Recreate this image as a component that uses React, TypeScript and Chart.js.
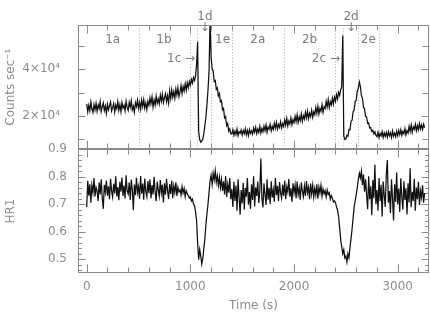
import React, { useEffect, useRef } from 'react';
import { Chart, registerables } from 'chart.js';

Chart.register(...registerables);

// time bins (s)
const T_START = 0;
const T_STEP = 10;

// Counts sec^-1, one value per 10 s bin
const COUNTS = [
  25200, 21800, 24600, 22300, 26100, 23000, 21500, 24900, 22600, 25400,
  22100, 24800, 23200, 26300, 21900, 23900, 25600, 22400, 24300, 21200,
  25100, 22700, 24400, 26000, 22200, 23600, 25300, 21700, 24700, 23100,
  26200, 22500, 24900, 21900, 25800, 23400, 24600, 22300, 26400, 23700,
  22400, 25900, 23800, 26500, 22600, 24200, 21600, 25700, 24100, 26800,
  23300, 25800, 22900, 26900, 24100, 27000, 23400, 25600, 22800, 26300,
  24600, 27700, 25200, 28200, 23800, 26900, 24700, 28500, 25400, 27300,
  25200, 28900, 26300, 29400, 25800, 27800, 29600, 26100, 28700, 25500,
  30800, 27400, 31200, 28100, 30400, 27600, 31600, 29000, 32100, 28300,
  30200, 33000, 29600, 32600, 30700, 33800, 31000, 34200, 32100, 34800,
  33200, 35600, 34100, 36500, 35200, 37200, 42000, 51700, 13500, 10000,
  8900, 9300, 10200, 12500, 16000, 19500, 25000, 31000, 39000, 61000,
  45000, 40200, 39300, 34800, 35200, 31400, 32100, 28600, 29600, 26100,
  26600, 22700, 23300, 19200, 19800, 15900, 16800, 13600, 14500, 12400,
  12400, 14200, 11800, 13600, 12100, 14500, 11600, 13300, 12700, 14100,
  11900, 13800, 12500, 14600, 12000, 13900, 11700, 14300, 12600, 13700,
  12300, 14900, 13100, 15200, 12500, 14400, 13000, 15600, 12800, 14700,
  13300, 15700, 13800, 16200, 13100, 15300, 14400, 16500, 13700, 15600,
  14200, 16900, 14800, 17300, 14500, 16400, 15200, 17600, 14900, 16800,
  15600, 18400, 16100, 19000, 15800, 17900, 16600, 19200, 16300, 18500,
  17200, 19900, 17600, 20500, 17300, 19600, 18100, 21000, 17800, 20200,
  18700, 21600, 19200, 22100, 18900, 21200, 19800, 22500, 19500, 21800,
  20600, 23700, 21200, 24200, 20900, 23300, 22000, 24800, 21600, 24000,
  23200, 26300, 23900, 27000, 23600, 26100, 24800, 27600, 25200, 28100,
  26400, 29200, 27300, 30100, 28800, 31200, 32500, 54400, 11500, 10000,
  10300, 11800, 11400, 14300, 14200, 17800, 18200, 21900, 22600, 26300,
  26800, 30700, 31900, 34600, 32700, 28800, 27600, 23800, 23100, 19900,
  19600, 16900, 17100, 14900, 15100, 13400, 13900, 12400, 13300, 11700,
  11200, 13100, 10800, 12600, 11500, 13400, 10900, 12800, 11300, 13000,
  11000, 13300, 11600, 12900, 10900, 13600, 11400, 12700, 11200, 13500,
  11600, 13900, 12100, 14200, 11800, 13500, 12400, 14600, 12000, 13800,
  12800, 15600, 13400, 16200, 13100, 15400, 14300, 16500, 13700, 15900,
  14100, 16800, 14600, 16200, 14300, 16500, 15000,
];

// Hardness ratio HR1, one value per 10 s bin
const HR1 = [
  0.690, 0.785, 0.731, 0.772, 0.705, 0.768, 0.742, 0.795, 0.728, 0.761,
  0.748, 0.712, 0.779, 0.735, 0.790, 0.722, 0.683, 0.770, 0.744, 0.786,
  0.731, 0.765, 0.718, 0.792, 0.747, 0.726, 0.774, 0.739, 0.801, 0.728,
  0.762, 0.714, 0.781, 0.745, 0.797, 0.730, 0.768, 0.721, 0.805, 0.748,
  0.737, 0.779, 0.715, 0.789, 0.752, 0.678, 0.771, 0.733, 0.796, 0.742,
  0.764, 0.720, 0.802, 0.738, 0.775, 0.716, 0.793, 0.746, 0.727, 0.784,
  0.740, 0.790, 0.722, 0.769, 0.735, 0.799, 0.744, 0.711, 0.782, 0.752,
  0.729, 0.788, 0.741, 0.770, 0.706, 0.776, 0.734, 0.792, 0.748, 0.719,
  0.773, 0.737, 0.785, 0.722, 0.766, 0.742, 0.779, 0.730, 0.761, 0.745,
  0.752, 0.733, 0.764, 0.741, 0.757, 0.727, 0.749, 0.738, 0.731, 0.722,
  0.726, 0.712, 0.718, 0.701, 0.695, 0.672, 0.640, 0.560, 0.498, 0.535,
  0.512, 0.482, 0.503, 0.540, 0.575, 0.625, 0.665, 0.700, 0.742, 0.785,
  0.805, 0.772, 0.812, 0.788, 0.821, 0.779, 0.803, 0.768, 0.798, 0.760,
  0.790, 0.748, 0.783, 0.735, 0.802, 0.726, 0.771, 0.742, 0.795, 0.718,
  0.755, 0.690, 0.781, 0.712, 0.768, 0.676, 0.790, 0.724, 0.662, 0.751,
  0.703, 0.778, 0.681, 0.759, 0.727, 0.795, 0.698, 0.744, 0.683, 0.772,
  0.715, 0.801, 0.692, 0.761, 0.730, 0.782, 0.704, 0.748, 0.866, 0.720,
  0.688, 0.776, 0.735, 0.697, 0.790, 0.716, 0.759, 0.701, 0.783, 0.724,
  0.752, 0.709, 0.795, 0.733, 0.767, 0.712, 0.780, 0.741, 0.722, 0.770,
  0.730, 0.785, 0.718, 0.763, 0.744, 0.791, 0.727, 0.758, 0.709, 0.776,
  0.741, 0.770, 0.722, 0.782, 0.735, 0.758, 0.716, 0.779, 0.748, 0.727,
  0.766, 0.730, 0.784, 0.742, 0.761, 0.718, 0.775, 0.737, 0.769, 0.726,
  0.757, 0.733, 0.772, 0.720, 0.763, 0.741, 0.768, 0.729, 0.755, 0.738,
  0.749, 0.726, 0.752, 0.735, 0.742, 0.718, 0.731, 0.722, 0.708, 0.712,
  0.705, 0.690, 0.678, 0.655, 0.615, 0.570, 0.545, 0.520, 0.535, 0.505,
  0.512, 0.490, 0.520, 0.505, 0.545, 0.575, 0.610, 0.650, 0.690, 0.712,
  0.735, 0.760, 0.790, 0.812, 0.795, 0.820, 0.770, 0.808, 0.745, 0.790,
  0.735, 0.682, 0.801, 0.718, 0.765, 0.660, 0.788, 0.722, 0.843, 0.700,
  0.751, 0.676, 0.795, 0.712, 0.770, 0.655, 0.782, 0.733, 0.690, 0.808,
  0.860, 0.705, 0.748, 0.668, 0.790, 0.721, 0.641, 0.772, 0.708, 0.815,
  0.699, 0.757, 0.672, 0.794, 0.726, 0.680, 0.783, 0.715, 0.758, 0.663,
  0.776, 0.706, 0.830, 0.689, 0.745, 0.712, 0.792, 0.676, 0.760, 0.718,
  0.781, 0.697, 0.748, 0.724, 0.769, 0.705, 0.740,
];

// axes
const X_MIN = -84;
const X_MAX = 3302;
const X_TICKS = [0, 1000, 2000, 3000];
const X_MINOR_STEP = 200;
const X_MAJOR_STEP = 1000;
const COUNT_MIN = 5900;
const COUNT_MAX = 58800;
const COUNT_TICKS = [20000, 40000];
const COUNT_TICK_LABELS = ['2×10⁴', '4×10⁴'];
const COUNT_MINOR_TICKS = [10000, 20000, 30000, 40000, 50000];
const HR_MIN = 0.45;
const HR_MAX = 0.9;
const HR_TICKS = [0.5, 0.6, 0.7, 0.8, 0.9];
const HR_TICK_LABELS = ['0.5', '0.6', '0.7', '0.8', '0.9'];
const HR_MINOR_TICKS = [
  0.46, 0.48, 0.5, 0.52, 0.54, 0.56, 0.58, 0.6, 0.62, 0.64, 0.66, 0.68,
  0.7, 0.72, 0.74, 0.76, 0.78, 0.8, 0.82, 0.84, 0.86, 0.88, 0.9,
];

// phase annotations (time in s)
const BOUNDARIES = [500, 1000, 1065, 1200, 1400, 1900, 2400, 2475, 2620, 2815];
const PHASE_NAMES = ['1a', '1b', '1e', '2a', '2b', '2e'];
const PHASE_TIMES = [250, 745, 1310, 1650, 2150, 2717];
const SIDE_NAMES = ['1c →', '2c →'];
const SIDE_TIMES = [1046, 2443];
const DOWN_NAMES = ['1d', '2d'];
const DOWN_TIMES = [1140, 2550];

const FONT = '"DejaVu Sans", sans-serif';
const TEXT_COLOR = '#8c8c8c';
const FRAME_COLOR = '#8a8a8a';

const framePlugin = {
  id: 'frameTicks',
  beforeDatasetsDraw(chart: any) {
    const { ctx } = chart;
    const xs = chart.scales.x;
    const ys = chart.scales.y;
    ctx.save();
    ctx.strokeStyle = '#b0b0b0';
    ctx.lineWidth = 1;
    ctx.setLineDash([1, 2]);
    for (const t of BOUNDARIES) {
      const px = Math.round(xs.getPixelForValue(t)) + 0.5;
      ctx.beginPath();
      ctx.moveTo(px, ys.top);
      ctx.lineTo(px, ys.bottom);
      ctx.stroke();
    }
    ctx.restore();
  },
  afterDatasetsDraw(chart: any) {
    const { ctx } = chart;
    const xs = chart.scales.x;
    const panels = [
      { s: chart.scales.y, ticks: COUNT_MINOR_TICKS, isMajor: (v: number) => COUNT_TICKS.includes(v), maj: 7, min: 6 },
      { s: chart.scales.y2, ticks: HR_MINOR_TICKS, isMajor: (v: number) => HR_TICKS.some((m) => Math.abs(m - v) < 1e-6), maj: 7, min: 3.5 },
    ];
    ctx.save();
    ctx.strokeStyle = FRAME_COLOR;
    ctx.lineWidth = 1;
    const L = Math.round(xs.left) + 0.5;
    const R = Math.round(xs.right) - 0.5;
    for (const p of panels) {
      const T = Math.round(p.s.top) + 0.5;
      const B = Math.round(p.s.bottom) - 0.5;
      ctx.strokeRect(L, T, R - L, B - T);
      ctx.beginPath();
      for (let v = 0; v <= X_MAX; v += X_MINOR_STEP) {
        const px = Math.round(xs.getPixelForValue(v)) + 0.5;
        const len = v % X_MAJOR_STEP === 0 ? 8 : 5;
        ctx.moveTo(px, T);
        ctx.lineTo(px, T + len);
        ctx.moveTo(px, B);
        ctx.lineTo(px, B - len);
      }
      for (const v of p.ticks) {
        const py = Math.round(p.s.getPixelForValue(v)) + 0.5;
        const len = p.isMajor(v) ? p.maj : p.min;
        ctx.moveTo(L, py);
        ctx.lineTo(L + len, py);
        ctx.moveTo(R, py);
        ctx.lineTo(R - len, py);
      }
      ctx.stroke();
    }
    ctx.restore();
  },
  afterDraw(chart: any) {
    const { ctx } = chart;
    const xs = chart.scales.x;
    const top = chart.scales.y.top;
    ctx.save();
    ctx.fillStyle = '#7a7a7a';
    ctx.font = '12px ' + FONT;
    ctx.textBaseline = 'middle';
    ctx.textAlign = 'center';
    PHASE_NAMES.forEach((n, i) => {
      ctx.fillText(n, xs.getPixelForValue(PHASE_TIMES[i]), top + 15);
    });
    DOWN_NAMES.forEach((n, i) => {
      const px = xs.getPixelForValue(DOWN_TIMES[i]);
      ctx.fillText(n, px, top - 8);
      ctx.fillText('↓', px, top + 3);
    });
    ctx.textAlign = 'right';
    SIDE_NAMES.forEach((n, i) => {
      ctx.fillText(n, xs.getPixelForValue(SIDE_TIMES[i]), top + 34);
    });
    ctx.restore();
  },
};

export default function App() {
  const ref = useRef<HTMLCanvasElement | null>(null);

  useEffect(() => {
    document.body.style.margin = '0';
    const canvas = ref.current;
    if (!canvas) return;
    const countData = COUNTS.map((v, i) => ({ x: T_START + i * T_STEP, y: v }));
    const hrData = HR1.map((v, i) => ({ x: T_START + i * T_STEP, y: v }));
    const tickFont = { family: FONT, size: 12 };

    const chart = new Chart(canvas, {
      type: 'line',
      data: {
        datasets: [
          {
            label: 'Counts',
            data: countData,
            yAxisID: 'y',
            borderColor: '#111111',
            borderWidth: 1.25,
            pointRadius: 0,
            tension: 0,
          },
          {
            label: 'HR1',
            data: hrData,
            yAxisID: 'y2',
            borderColor: '#111111',
            borderWidth: 1.25,
            pointRadius: 0,
            tension: 0,
          },
        ],
      },
      options: {
        animation: false,
        responsive: false,
        devicePixelRatio: 1,
        layout: { padding: { top: 13, right: 1, left: 0, bottom: 0 } },
        plugins: { legend: { display: false }, tooltip: { enabled: false } },
        scales: {
          x: {
            type: 'linear',
            position: 'bottom',
            min: X_MIN,
            max: X_MAX,
            grid: { display: false, drawTicks: false, tickLength: 0 },
            border: { display: false },
            afterBuildTicks: (s: any) => {
              s.ticks = X_TICKS.map((v) => ({ value: v }));
            },
            afterFit: (s: any) => {
              s.height = 44;
            },
            ticks: {
              color: TEXT_COLOR,
              font: tickFont,
              padding: 7,
              maxRotation: 0,
              autoSkip: false,
              callback: (v: any) => String(v),
            },
            title: {
              display: true,
              text: 'Time (s)',
              color: TEXT_COLOR,
              font: tickFont,
              padding: { top: 0, bottom: 4 },
            },
          },
          y: {
            type: 'linear',
            position: 'left',
            stack: 'panels',
            stackWeight: 1,
            weight: 2,
            min: COUNT_MIN,
            max: COUNT_MAX,
            grid: { display: false, drawTicks: false, tickLength: 0 },
            border: { display: false },
            afterBuildTicks: (s: any) => {
              s.ticks = COUNT_TICKS.map((v) => ({ value: v }));
            },
            afterFit: (s: any) => {
              s.width = 78;
            },
            ticks: {
              color: TEXT_COLOR,
              font: tickFont,
              padding: 18,
              autoSkip: false,
              callback: (v: any) => COUNT_TICK_LABELS[COUNT_TICKS.indexOf(Number(v))] ?? '',
            },
            title: {
              display: true,
              text: 'Counts sec⁻¹',
              color: TEXT_COLOR,
              font: tickFont,
              padding: { top: 4, bottom: 0 },
            },
          },
          y2: {
            type: 'linear',
            position: 'left',
            stack: 'panels',
            stackWeight: 1,
            weight: 1,
            min: HR_MIN,
            max: HR_MAX,
            grid: { display: false, drawTicks: false, tickLength: 0 },
            border: { display: false },
            afterBuildTicks: (s: any) => {
              s.ticks = HR_TICKS.map((v) => ({ value: v }));
            },
            afterFit: (s: any) => {
              s.width = 78;
            },
            ticks: {
              color: TEXT_COLOR,
              font: tickFont,
              padding: 11,
              autoSkip: false,
              callback: (v: any) => {
                const i = HR_TICKS.findIndex((m) => Math.abs(m - Number(v)) < 1e-6);
                return i >= 0 ? HR_TICK_LABELS[i] : '';
              },
            },
            title: {
              display: true,
              text: 'HR1',
              color: TEXT_COLOR,
              font: tickFont,
              padding: { top: 4, bottom: 0 },
            },
          },
        },
      },
      plugins: [framePlugin],
    } as any);

    return () => {
      chart.destroy();
    };
  }, []);

  return (
    <div style={{ width: 430, height: 317 }}>
      <canvas ref={ref} width={430} height={317} style={{ display: 'block' }} />
    </div>
  );
}
